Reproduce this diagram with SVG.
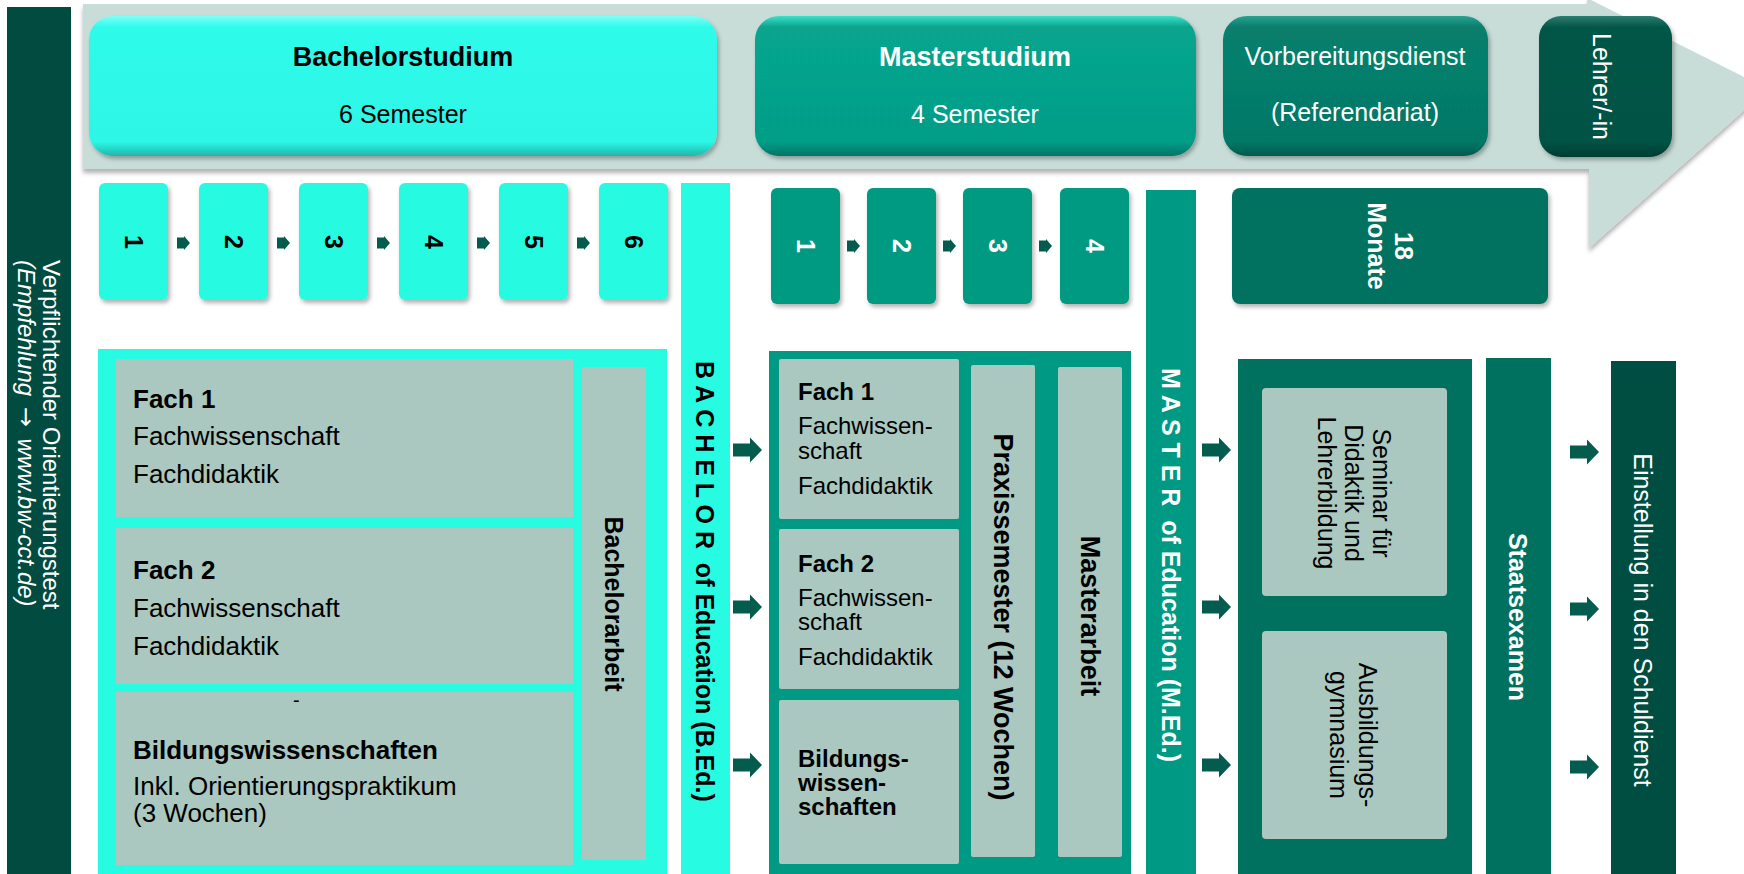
<svg xmlns="http://www.w3.org/2000/svg" width="1744" height="874" viewBox="0 0 1744 874">
<style>
text{font-family:"Liberation Sans",Arial,sans-serif;}
.b{font-weight:bold}
.w{fill:#fff}
.k{fill:#000}
.gray{fill:#aac8bf}
.cyan{fill:#27fbe2}
.f26{font-size:26px}
.f24{font-size:24px}
.f25{font-size:25px}
.arr{fill:#045c4e}
.pre{white-space:pre}
</style>
<defs>
<filter id="sh" x="-10%" y="-10%" width="130%" height="140%"><feDropShadow dx="2" dy="3" stdDeviation="2" flood-color="#000" flood-opacity="0.3"/></filter>
<filter id="shb" x="-5%" y="-10%" width="110%" height="130%"><feDropShadow dx="0" dy="4" stdDeviation="2" flood-color="#000" flood-opacity="0.3"/></filter>
<linearGradient id="gB" x1="0" y1="0" x2="0" y2="1"><stop offset="0" stop-color="#7ffff8"/><stop offset="0.08" stop-color="#2dfbea"/><stop offset="0.9" stop-color="#2df6e6"/><stop offset="1" stop-color="#1fb7aa"/></linearGradient>
<linearGradient id="gM" x1="0" y1="0" x2="0" y2="1"><stop offset="0" stop-color="#3fe0c8"/><stop offset="0.08" stop-color="#07a38c"/><stop offset="0.9" stop-color="#069d87"/><stop offset="1" stop-color="#047566"/></linearGradient>
<linearGradient id="gV" x1="0" y1="0" x2="0" y2="1"><stop offset="0" stop-color="#2ca190"/><stop offset="0.08" stop-color="#077e6c"/><stop offset="0.9" stop-color="#067866"/><stop offset="1" stop-color="#045a4d"/></linearGradient>
<linearGradient id="gL" x1="0" y1="0" x2="0" y2="1"><stop offset="0" stop-color="#2a7d6f"/><stop offset="0.08" stop-color="#045647"/><stop offset="0.9" stop-color="#035244"/><stop offset="1" stop-color="#023b32"/></linearGradient>
<path id="fat" d="M-29,-6.5 H-12 V-12.5 L0,0 L-12,12.5 V6.5 H-29 Z"/>
<path id="sm" d="M0,-5.5 H7 V-7 L13,0 L7,7 V5.5 H0 Z"/>
</defs>

<rect width="1744" height="874" fill="#fff"/>

<g id="timeline-arrow">
<polygon points="83,4 1587,4 1587,-2 1768,89 1589,248 1589,169 83,169" fill="#c9ddd8" filter="url(#shb)"/>
</g>

<g id="orientierungstest">
<rect x="7" y="7" width="64" height="870" fill="#014b40"/>
<text class="w f24" transform="translate(43,260) rotate(90)">Verpflichtender Orientierungstest</text>
<text class="w f24" font-style="italic" transform="translate(18,260) rotate(90)">(Empfehlung <tspan dx="4" font-family="DejaVu Sans, sans-serif" font-style="normal" font-size="24">→</tspan><tspan dx="5"> www.bw-cct.de)</tspan></text>
</g>

<g id="bachelorstudium">
<rect x="89" y="16" width="628" height="140" rx="24" fill="url(#gB)" filter="url(#sh)"/>
<text class="b k" font-size="27" x="403" y="66" text-anchor="middle">Bachelorstudium</text>
<text class="k f25" x="403" y="123" text-anchor="middle">6 Semester</text>
</g>

<g id="masterstudium">
<rect x="755" y="16" width="441" height="140" rx="24" fill="url(#gM)" filter="url(#sh)"/>
<text class="b w" font-size="27" x="975" y="66" text-anchor="middle">Masterstudium</text>
<text class="w f25" x="975" y="123" text-anchor="middle">4 Semester</text>
</g>

<g id="vorbereitungsdienst">
<rect x="1223" y="16" width="265" height="140" rx="24" fill="url(#gV)" filter="url(#sh)"/>
<text class="w f25" x="1355" y="65" text-anchor="middle">Vorbereitungsdienst</text>
<text class="w f25" x="1355" y="121" text-anchor="middle">(Referendariat)</text>
</g>

<g id="lehrer">
<rect x="1539" y="16" width="133" height="141" rx="22" fill="url(#gL)" filter="url(#sh)"/>
<text class="w f25" transform="translate(1593,33) rotate(90)">Lehrer/-in</text>
</g>

<g id="bachelor-semester">
<g id="bs1"><rect x="99" y="183" width="69" height="117" rx="6" class="cyan" filter="url(#sh)"/><text class="b k f25" transform="translate(134,242) rotate(90)" text-anchor="middle" dy="0.35em">1</text></g>
<g id="bs2"><rect x="199" y="183" width="69" height="117" rx="6" class="cyan" filter="url(#sh)"/><text class="b k f25" transform="translate(234,242) rotate(90)" text-anchor="middle" dy="0.35em">2</text></g>
<g id="bs3"><rect x="299" y="183" width="69" height="117" rx="6" class="cyan" filter="url(#sh)"/><text class="b k f25" transform="translate(334,242) rotate(90)" text-anchor="middle" dy="0.35em">3</text></g>
<g id="bs4"><rect x="399" y="183" width="69" height="117" rx="6" class="cyan" filter="url(#sh)"/><text class="b k f25" transform="translate(434,242) rotate(90)" text-anchor="middle" dy="0.35em">4</text></g>
<g id="bs5"><rect x="499" y="183" width="69" height="117" rx="6" class="cyan" filter="url(#sh)"/><text class="b k f25" transform="translate(534,242) rotate(90)" text-anchor="middle" dy="0.35em">5</text></g>
<g id="bs6"><rect x="599" y="183" width="69" height="117" rx="6" class="cyan" filter="url(#sh)"/><text class="b k f25" transform="translate(634,242) rotate(90)" text-anchor="middle" dy="0.35em">6</text></g>
</g>

<g id="master-semester">
<g id="ms1"><rect x="771" y="188" width="69" height="116" rx="6" fill="#069a83" filter="url(#sh)"/><text class="b w f25" transform="translate(806,246) rotate(90)" text-anchor="middle" dy="0.35em">1</text></g>
<g id="ms2"><rect x="867" y="188" width="69" height="116" rx="6" fill="#069a83" filter="url(#sh)"/><text class="b w f25" transform="translate(902,246) rotate(90)" text-anchor="middle" dy="0.35em">2</text></g>
<g id="ms3"><rect x="963" y="188" width="69" height="116" rx="6" fill="#069a83" filter="url(#sh)"/><text class="b w f25" transform="translate(998,246) rotate(90)" text-anchor="middle" dy="0.35em">3</text></g>
<g id="ms4"><rect x="1060" y="188" width="69" height="116" rx="6" fill="#069a83" filter="url(#sh)"/><text class="b w f25" transform="translate(1095,246) rotate(90)" text-anchor="middle" dy="0.35em">4</text></g>
</g>

<g id="monate">
<rect x="1232" y="188" width="316" height="116" rx="8" fill="#00725f" filter="url(#sh)"/>
<text class="b w f25" transform="translate(1404,246) rotate(90)" text-anchor="middle" dy="0.35em">18</text>
<text class="b w f25" transform="translate(1377,246) rotate(90)" text-anchor="middle" dy="0.35em">Monate</text>
</g>

<g id="bachelor-panel">
<rect x="98" y="349" width="569" height="530" class="cyan"/>
<g id="b-fach1"><rect x="116" y="359" width="457" height="158" class="gray"/>
<text class="b k f26" x="133" y="408">Fach 1</text>
<text class="k f26" x="133" y="445">Fachwissenschaft</text>
<text class="k f26" x="133" y="483">Fachdidaktik</text></g>
<g id="b-fach2"><rect x="116" y="528" width="457" height="156" class="gray"/>
<text class="b k f26" x="133" y="579">Fach 2</text>
<text class="k f26" x="133" y="617">Fachwissenschaft</text>
<text class="k f26" x="133" y="655">Fachdidaktik</text></g>
<g id="b-bildung"><rect x="116" y="692" width="457" height="173" class="gray"/>
<text class="k" font-size="20" x="293" y="707">-</text>
<text class="b k f26" x="133" y="759">Bildungswissenschaften</text>
<text class="k f26" x="133" y="795">Inkl. Orientierungspraktikum</text>
<text class="k f26" x="133" y="822">(3 Wochen)</text></g>
<g id="bachelorarbeit"><rect x="582" y="367" width="64" height="493" class="gray"/>
<text class="b k f25" transform="translate(614,604) rotate(90)" text-anchor="middle" dy="0.35em">Bachelorarbeit</text></g>
</g>

<g id="bachelor-of-education">
<rect x="681" y="183" width="49" height="695" class="cyan"/>
<text class="b k pre" font-size="25" transform="translate(705,361) rotate(90)" dy="0.35em">B A C H E L O R  of Education (B.Ed.)</text>
</g>

<g id="master-panel">
<rect x="769" y="351" width="362" height="528" fill="#009a84"/>
<g id="m-fach1"><rect x="779" y="359" width="180" height="160" rx="2" class="gray"/>
<text class="b k f24" x="798" y="400">Fach 1</text>
<text class="k f24" x="798" y="434">Fachwissen-</text>
<text class="k f24" x="798" y="459">schaft</text>
<text class="k f24" x="798" y="494">Fachdidaktik</text></g>
<g id="m-fach2"><rect x="779" y="529" width="180" height="160" rx="2" class="gray"/>
<text class="b k f24" x="798" y="572">Fach 2</text>
<text class="k f24" x="798" y="606">Fachwissen-</text>
<text class="k f24" x="798" y="630">schaft</text>
<text class="k f24" x="798" y="665">Fachdidaktik</text></g>
<g id="m-bildung"><rect x="779" y="700" width="180" height="164" rx="2" class="gray"/>
<text class="b k f24" x="798" y="767">Bildungs-</text>
<text class="b k f24" x="798" y="791">wissen-</text>
<text class="b k f24" x="798" y="815">schaften</text></g>
<g id="praxissemester"><rect x="971" y="365" width="64" height="492" rx="2" class="gray"/>
<text class="b k" font-size="27" transform="translate(1003,617) rotate(90)" text-anchor="middle" dy="0.35em">Praxissemester (12 Wochen)</text></g>
<g id="masterarbeit"><rect x="1058" y="367" width="64" height="490" rx="2" class="gray"/>
<text class="b k" font-size="27" transform="translate(1090,616) rotate(90)" text-anchor="middle" dy="0.35em">Masterarbeit</text></g>
</g>

<g id="master-of-education">
<rect x="1146" y="190" width="50" height="688" fill="#009a84"/>
<text class="b w pre" font-size="25" transform="translate(1171,368) rotate(90)" dy="0.35em">M A S T E R  of Education (M.Ed.)</text>
</g>

<g id="referendariat-panel">
<rect x="1238" y="359" width="234" height="520" fill="#00715f"/>
<g id="seminar"><rect x="1262" y="388" width="185" height="208" rx="4" class="gray"/>
<text class="k f25" transform="translate(1382,493) rotate(90)" text-anchor="middle" dy="0.35em">Seminar für</text>
<text class="k f25" transform="translate(1354,493) rotate(90)" text-anchor="middle" dy="0.35em">Didaktik und</text>
<text class="k f25" transform="translate(1327,493) rotate(90)" text-anchor="middle" dy="0.35em">Lehrerbildung</text></g>
<g id="ausbildungsgymnasium"><rect x="1262" y="631" width="185" height="208" rx="4" class="gray"/>
<text class="k f25" transform="translate(1368,735) rotate(90)" text-anchor="middle" dy="0.35em">Ausbildungs-</text>
<text class="k f25" transform="translate(1339,735) rotate(90)" text-anchor="middle" dy="0.35em">gymnasium</text></g>
</g>

<g id="staatsexamen">
<rect x="1486" y="358" width="65" height="520" fill="#00715f"/>
<text class="b w f25" transform="translate(1518,617) rotate(90)" text-anchor="middle" dy="0.35em">Staatsexamen</text>
</g>

<g id="einstellung">
<rect x="1611" y="361" width="65" height="517" fill="#004e42"/>
<text class="w f25" transform="translate(1643,620) rotate(90)" text-anchor="middle" dy="0.35em">Einstellung in den Schuldienst</text>
</g>

<g id="connectors" class="arr">
<use href="#sm" x="177" y="243"/>
<use href="#sm" x="277" y="243"/>
<use href="#sm" x="377" y="243"/>
<use href="#sm" x="477" y="243"/>
<use href="#sm" x="577" y="243"/>
<use href="#sm" x="847" y="246"/>
<use href="#sm" x="943" y="246"/>
<use href="#sm" x="1039" y="246"/>
<use href="#fat" x="762" y="450"/>
<use href="#fat" x="762" y="607"/>
<use href="#fat" x="762" y="765"/>
<use href="#fat" x="1231" y="450"/>
<use href="#fat" x="1231" y="607"/>
<use href="#fat" x="1231" y="765"/>
<use href="#fat" x="1599" y="452"/>
<use href="#fat" x="1599" y="609"/>
<use href="#fat" x="1599" y="767"/>
</g>
</svg>
